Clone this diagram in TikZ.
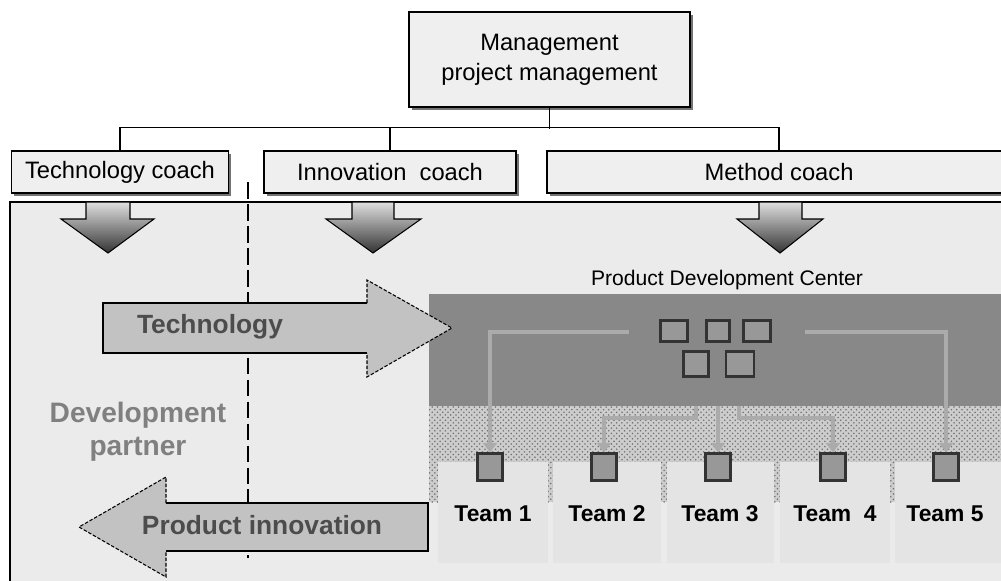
\documentclass[tikz,border=0pt]{standalone}
\usepackage{fontspec}
\setmainfont{Liberation Sans}
\usetikzlibrary{arrows.meta,patterns,shadows,positioning}

\definecolor{boxgray}{HTML}{EFEFEF}
\definecolor{panelgray}{HTML}{EBEBEB}
\definecolor{bandgray}{HTML}{888888}
\definecolor{cellgray}{HTML}{E4E4E4}
\definecolor{sqgray}{HTML}{989898}
\definecolor{feedgray}{HTML}{ABABAB}
\definecolor{arrowgray}{HTML}{C2C2C2}
\definecolor{hatchgray}{HTML}{CDCDCD}

\begin{document}
\begin{tikzpicture}[x=0.02cm, y=-0.02cm,
    box/.style={draw, fill=boxgray, line width=0.8pt, inner sep=0pt, align=center,
        font=\fontsize{13.5}{17}\selectfont,
        drop shadow={shadow xshift=1.6pt, shadow yshift=-1.6pt, fill=black!55, opacity=1}},
    sq/.style={draw=black!80, fill=sqgray, line width=1.5pt, inner sep=0pt},
    feed/.style={draw=feedgray, line width=2.5pt, -{Triangle[width=8pt,length=5.5pt]}},
    team/.style={font=\fontsize{13}{15}\selectfont\bfseries}]
\useasboundingbox (0,0) rectangle (1001,581);
\fill[white] (0,0) rectangle (1001,581);

\node[box, minimum width=5.62cm, minimum height=1.9cm] (mgmt) at (549.5,59.5) {Management\\project management};
\node[box, minimum width=4.34cm, minimum height=0.84cm] (tc) at (120,172) {Technology coach};
\node[box, minimum width=5.04cm, minimum height=0.84cm] (ic) at (390,172) {Innovation\ \ coach};
\node[box, minimum width=9.28cm, minimum height=0.84cm] (mc) at (779,172) {Method coach};

\draw[line width=0.8pt] (mgmt.south) -- ++(0,21);
\draw[line width=0.8pt] (tc.north) -- ++(0,-23) -| (mc.north);
\draw[line width=0.8pt] (ic.north) -- ++(0,-23);

\draw[line width=0.8pt, fill=panelgray] (10,202) rectangle (1010,590);

\shadedraw[top color=gray!25, bottom color=black!80, line width=0.6pt] (86,202) -- (130,202) -- (130,219) -- (154,219) -- (108,253) -- (61,219) -- (86,219) -- cycle;
\shadedraw[top color=gray!25, bottom color=black!80, line width=0.6pt] (352,202) -- (394,202) -- (394,219) -- (421,219) -- (373,253) -- (326,219) -- (352,219) -- cycle;
\shadedraw[top color=gray!25, bottom color=black!80, line width=0.6pt] (759,202) -- (802,202) -- (802,219) -- (823,219) -- (780,253) -- (737,219) -- (759,219) -- cycle;

\node[font=\fontsize{12}{14}\selectfont] (pdc) at (727,280) {Product Development Center};
\fill[bandgray] (429,294) rectangle (1010,406);
\fill[hatchgray] (429,406) rectangle (1010,502);
\fill[pattern=crosshatch dots, pattern color=black!55] (429,406) rectangle (1010,502);
\fill[cellgray] (438,462) rectangle (548,563);
\fill[cellgray] (553,462) rectangle (661,563);
\fill[cellgray] (667,462) rectangle (774,563);
\fill[cellgray] (780,462) rectangle (890,563);
\fill[cellgray] (895,462) rectangle (1010,563);

\draw[line width=1.1pt, dash pattern=on 9.5pt off 3pt] (248,182) -- (248,558);

\fill[arrowgray] (103,303) -- (367,303) -- (367,280) -- (452,328) -- (367,377) -- (367,353) -- (103,353) -- cycle;
\draw[line width=0.7pt] (367,303) -- (103,303) -- (103,353) -- (367,353);
\draw[line width=0.6pt, dash pattern=on 2pt off 1pt] (367,303) -- (367,280) -- (452,328) -- (367,377) -- (367,353);
\node[font=\fontsize{15}{17}\selectfont\bfseries, text=black!70] (tech) at (210,327) {Technology};

\fill[arrowgray] (428,503) -- (166,503) -- (166,477) -- (79,527) -- (166,577) -- (166,551) -- (428,551) -- cycle;
\draw[line width=0.7pt] (166,503) -- (428,503) -- (428,551) -- (166,551);
\draw[line width=0.6pt, dash pattern=on 2pt off 1pt] (166,503) -- (166,477) -- (79,527) -- (166,577) -- (166,551);
\node[font=\fontsize{15}{17}\selectfont\bfseries, text=black!70] (pinno) at (262,525) {Product innovation};

\node[font=\fontsize{16}{19}\selectfont\bfseries, text=black!50, align=center] (devp) at (138,432) {Development\\partner};

\node[sq, minimum width=0.53cm, minimum height=0.43cm] (q1) at (674,331) {};
\node[sq, minimum width=0.47cm, minimum height=0.43cm] (q2) at (718,331) {};
\node[sq, minimum width=0.55cm, minimum height=0.43cm] (q3) at (757,331) {};
\node[sq, minimum width=0.49cm, minimum height=0.5cm] (q4) at (696,364) {};
\node[sq, minimum width=0.56cm, minimum height=0.5cm] (q5) at (740,364) {};

\node[sq, minimum width=0.49cm, minimum height=0.53cm] (s1) at (490,467) {};
\node[sq, minimum width=0.49cm, minimum height=0.53cm] (s2) at (604,467) {};
\node[sq, minimum width=0.49cm, minimum height=0.53cm] (s3) at (718,467) {};
\node[sq, minimum width=0.49cm, minimum height=0.53cm] (s4) at (833,467) {};
\node[sq, minimum width=0.49cm, minimum height=0.53cm] (s5) at (946,467) {};

\coordinate (f1) at (629,332);
\coordinate (f2) at (696,406);
\coordinate (k2) at (696,418);
\coordinate (f3) at (718,406);
\coordinate (f4) at (739,406);
\coordinate (k4) at (739,418);
\coordinate (f5) at (805,332);

\draw[feed] (f1) -| (s1.north);
\draw[feed] (f2) -- (k2) -| (s2.north);
\draw[feed] (f3) -- (s3.north);
\draw[feed] (f4) -- (k4) -| (s4.north);
\draw[feed] (f5) -| (s5.north);

\node[team] (t1) at (493,514) {Team 1};
\node[team] (t2) at (607,514) {Team 2};
\node[team] (t3) at (720,514) {Team 3};
\node[team] (t4) at (835,514) {Team\ \ 4};
\node[team] (t5) at (945,514) {Team 5};
\end{tikzpicture}
\end{document}
